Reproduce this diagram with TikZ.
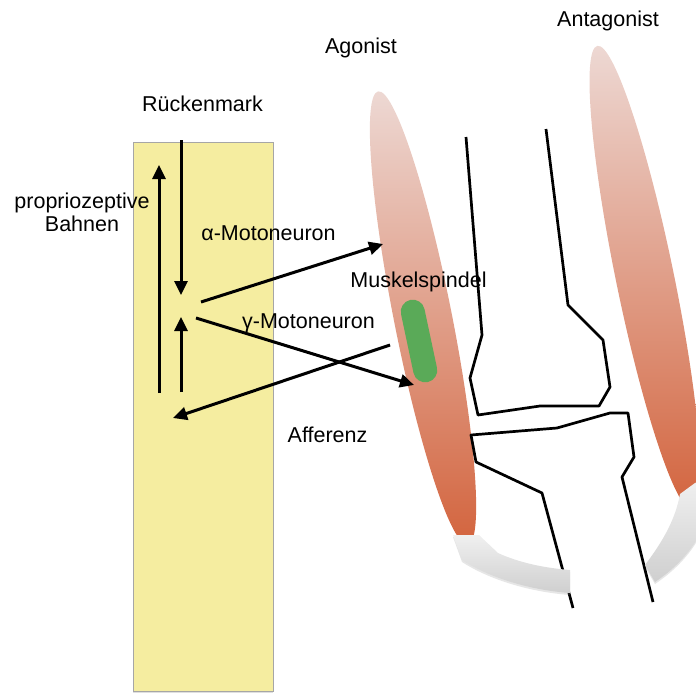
\documentclass[tikz,border=0pt]{standalone}
\usepackage{fontspec}
\setmainfont{Liberation Sans}
\usetikzlibrary{arrows.meta,positioning,calc,shadows}
\definecolor{cordyellow}{HTML}{F5EDA0}
\definecolor{spindlegreen}{HTML}{5AAA58}
\definecolor{muscletop}{HTML}{EDD8D3}
\definecolor{musclemid}{HTML}{DFA597}
\definecolor{musclebot}{HTML}{D3643E}
\definecolor{tendontop}{HTML}{F0F0F0}
\definecolor{tendonbot}{HTML}{CFCFCF}

\begin{document}
\begin{tikzpicture}[x=1pt, y=-1pt, >={Triangle[length=14pt,width=13pt]}, font=\fontsize{21.5}{23.5}\selectfont]
  \tikzstyle{nerve}=[draw=black,line width=3pt]
  \tikzstyle{bone}=[draw=black,line width=2.7pt,line join=round]
  \tikzstyle{lbl}=[inner sep=0pt,anchor=base]
  \tikzstyle{tendon}=[top color=tendontop,bottom color=tendonbot,
    drop shadow={opacity=0.2,shadow xshift=0pt,shadow yshift=-2pt}]
  \tikzstyle{muscle}=[top color=muscletop,middle color=musclemid,bottom color=musclebot]
  \useasboundingbox (0,0) rectangle (696,693);

  % spinal cord
  \node[draw=gray!70,fill=cordyellow,minimum width=140pt,minimum height=549pt,inner sep=0pt,
        drop shadow={opacity=0.25,shadow xshift=0pt,shadow yshift=-1.5pt}] (cord) at (203,417) {};

  % muscles
  \shade[muscle,rotate around={11.2:(423,318)}] (423,318) ellipse [x radius=29,y radius=231];
  \shade[muscle,rotate around={11.6:(645,278)}] (645,278) ellipse [x radius=29,y radius=237];

  % femur and tibia
  \draw[bone] (466,137) -- (482,335) -- (470,378) -- (478,415) -- (540,406) -- (599,406)
    -- (610,387) -- (603,340) -- (568,305) -- (546,129);
  \draw[bone] (573,608) -- (542,493) -- (476,462) -- (471,435) -- (557,428) -- (610,413)
    -- (628,413) -- (634,457) -- (622,477) -- (653,602);

  % tendons
  \shade[tendon] (453,535) -- (479,535) -- (498,553) .. controls (520,563) and (545,568) .. (570,570)
    -- (570,593) .. controls (530,590) and (490,578) .. (462,560) -- cycle;
  \shade[tendon] (680,494) -- (695,483) -- (702,480) -- (702,530)
    .. controls (690,555) and (670,572) .. (655,582) -- (645,565)
    .. controls (660,545) and (675,522) .. (680,494) -- cycle;

  \node[fill=spindlegreen,rounded corners=12pt,minimum width=24pt,minimum height=84pt,
        inner sep=0pt,rotate=12] (spindle) at (419,341) {};

  % pathways in the cord
  \coordinate (ascbot) at (159,393);
  \coordinate (asctop) at (159,165);
  \coordinate (desctop) at (181,140);
  \coordinate (descend) at (181,295);
  \coordinate (affbot) at (181,392);
  \coordinate (affend) at (181,317);
  \draw[nerve,->] (ascbot) -- (asctop);
  \draw[nerve,->] (desctop) -- (descend);
  \draw[nerve,->] (affbot) -- (affend);

  % efferent and afferent fibres
  \coordinate (alphastart) at (201,302);
  \coordinate (alphaend) at (383,244);
  \coordinate (gammastart) at (196,318);
  \coordinate (gammaend) at (414,385);
  \coordinate (afferstart) at (390,345);
  \coordinate (afferend) at (173,418);
  \draw[nerve,->] (alphastart) -- (alphaend);
  \draw[nerve,->] (gammastart) -- (gammaend);
  \draw[nerve,->] (afferstart) -- (afferend);

  % labels
  \node[lbl] (lblcord) at (202.5,111.5) {Rückenmark};
  \node[lbl] (lblago) at (361,53.5) {Agonist};
  \node[lbl] (lblanta) at (608,26.5) {Antagonist};
  \node[lbl,align=center] (lblprop) at (82,231.5) {propriozeptive\\Bahnen};
  \node[lbl] (lblalpha) at (268.5,240) {α-Motoneuron};
  \node[lbl] (lblspindle) at (418.5,287) {Muskelspindel};
  \node[lbl] (lblgamma) at (308.5,328) {γ-Motoneuron};
  \node[lbl] (lblaff) at (327.5,442) {Afferenz};
\end{tikzpicture}
\end{document}
